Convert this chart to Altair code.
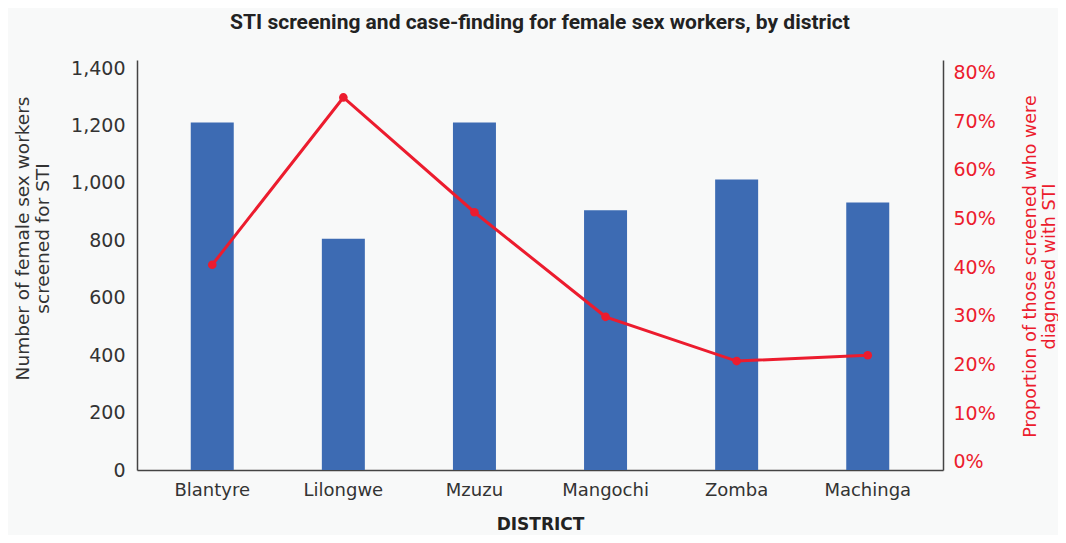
import altair as alt
import pandas as pd

districts = ["Blantyre", "Lilongwe", "Mzuzu", "Mangochi", "Zomba", "Machinga"]
screened = [1210, 805, 1210, 905, 1012, 932]
diagnosed_pct = [0.405, 0.749, 0.513, 0.298, 0.207, 0.219]
left_ticks = [0, 200, 400, 600, 800, 1000, 1200, 1400]
right_ticks = [0, 0.1, 0.2, 0.3, 0.4, 0.5, 0.6, 0.7, 0.8]

df = pd.DataFrame({"district": districts, "screened": screened, "pct": diagnosed_pct})

BLUE = "#3D6BB3"
RED = "#EC1C2E"
DARK = "#333333"
FONT = "DejaVu Sans"

x_enc = alt.X(
    "district:N",
    sort=districts,
    scale=alt.Scale(paddingInner=0.672, paddingOuter=0.41),
    axis=alt.Axis(
        title="DISTRICT",
        labelAngle=0,
        labelFontSize=18,
        labelColor=DARK,
        labelFont=FONT,
        labelPadding=11,
        ticks=False,
        domainColor="#444444",
        domainWidth=1.5,
        titleFont=FONT,
        titleFontSize=17,
        titleFontWeight="bold",
        titleColor="#222222",
        titlePadding=17,
    ),
)

bars = alt.Chart(df).mark_bar(color=BLUE).encode(
    x=x_enc,
    y=alt.Y(
        "screened:Q",
        scale=alt.Scale(domain=[0, 1428], nice=False),
        axis=alt.Axis(
            title=["Number of female sex workers", "screened for STI"],
            values=left_ticks,
            format=",d",
            grid=False,
            ticks=False,
            labelFontSize=19,
            labelColor=DARK,
            labelFont=FONT,
            labelPadding=12,
            domainColor="#444444",
            domainWidth=1.5,
            titleFont=FONT,
            titleFontSize=18.5,
            titleFontWeight="normal",
            titleColor=DARK,
            titleAngle=270,
            titleBaseline="top",
            titleAlign="center",
            titleLineHeight=20,
            titleX=-124,
            titleY=178,
        ),
    ),
)

line = alt.Chart(df).mark_line(
    color=RED,
    strokeWidth=3,
    point=alt.OverlayMarkDef(color=RED, size=75, filled=True, opacity=1),
).encode(
    x=alt.X("district:N", sort=districts),
    y=alt.Y(
        "pct:Q",
        scale=alt.Scale(domain=[-0.017, 0.826], nice=False, zero=False),
        axis=alt.Axis(
            orient="right",
            title=["Proportion of those screened who were", "diagnosed with STI"],
            values=right_ticks,
            format=".0%",
            grid=False,
            ticks=False,
            labelFontSize=19,
            labelColor=RED,
            labelFont=FONT,
            labelPadding=10,
            domainColor="#444444",
            domainWidth=1.5,
            titleFont=FONT,
            titleFontSize=17.5,
            titleFontWeight="normal",
            titleColor=RED,
            titleAngle=270,
            titleBaseline="top",
            titleAlign="center",
            titleLineHeight=19,
            titleX=78,
            titleY=206,
        ),
    ),
)

chart = (
    alt.layer(bars, line)
    .resolve_scale(y="independent")
    .properties(
        width=806,
        height=410,
        background="#F8F9F9",
        padding={"left": 129, "top": 52, "right": 115, "bottom": 65},
        autosize=alt.AutoSizeParams(type="none"),
        title=alt.TitleParams(
            "STI screening and case-finding for female sex workers, by district",
            font="Roboto",
            fontSize=21,
            fontWeight="bold",
            color="#222222",
            anchor="middle",
            offset=26,
        ),
    )
    .configure_view(stroke=None)
)

chart.save("out.html", embed_options={"renderer": "svg", "actions": False})
